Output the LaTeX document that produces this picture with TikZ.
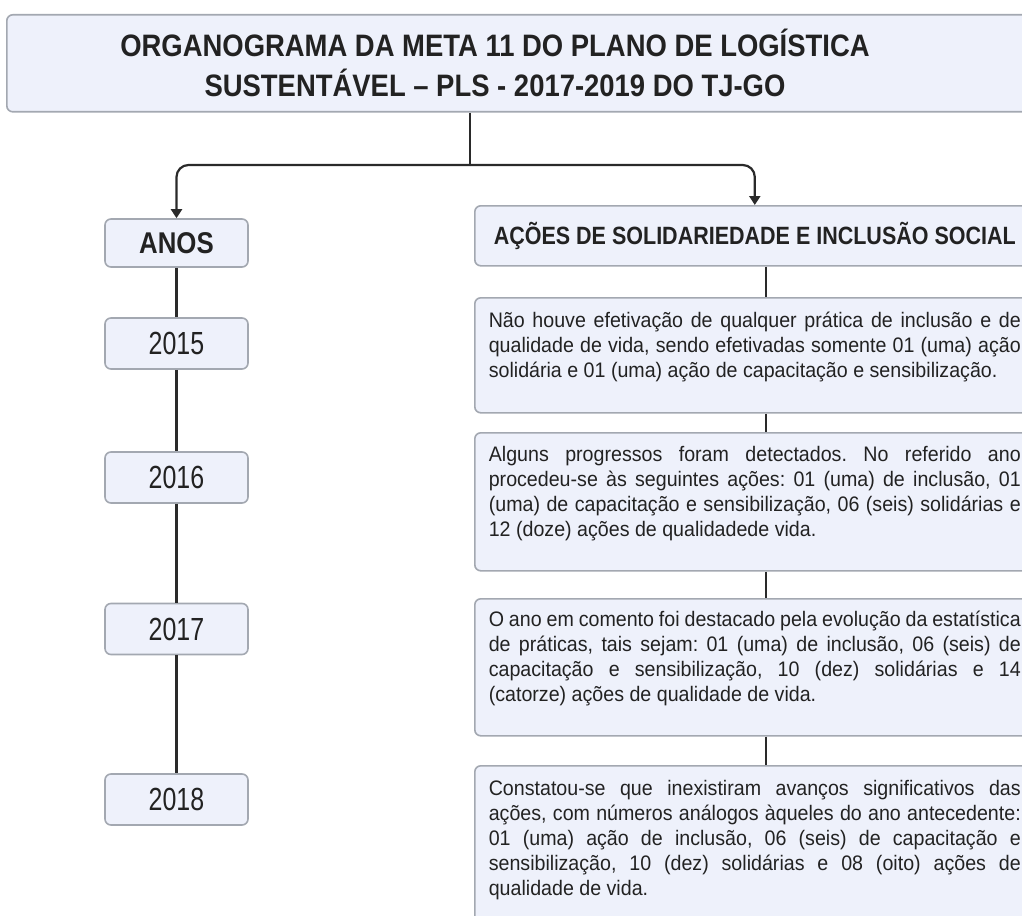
\documentclass[tikz,border=0pt]{standalone}
\usepackage{fontspec}
\setmainfont{Liberation Sans}
\newfontfamily\fonteTitulo[FakeStretch=0.885]{Liberation Sans}
\newfontfamily\fonteAno[FakeStretch=0.78]{Liberation Sans}
\newfontfamily\fonteCabeca[FakeStretch=0.86]{Liberation Sans}
\newfontfamily\fonteCorpo[FakeStretch=0.935]{Liberation Sans}
\usetikzlibrary{arrows.meta}

\definecolor{fundo}{HTML}{EEF1FB}
\definecolor{borda}{HTML}{A3A8B1}
\definecolor{traco}{HTML}{2A2A2A}
\definecolor{letra}{HTML}{222222}

\begin{document}
\frenchspacing
\begin{tikzpicture}[x=1pt, y=-1pt,
	caixa/.style={draw=borda, fill=fundo, line width=1.6pt, rounded corners=6pt, text=letra},
	ano/.style={caixa, minimum width=143pt, minimum height=51pt, inner sep=0pt,
		font=\fonteAno\fontsize{32}{36}\selectfont},
	cabeca/.style={caixa, anchor=north west, minimum width=560pt, minimum height=60pt,
		font=\fonteCabeca\bfseries\fontsize{25}{29}\selectfont},
	texto/.style={caixa, anchor=north west, text width=532pt, inner xsep=14pt, align=justify,
		font=\fonteCorpo\fontsize{21}{25}\selectfont},
	linha/.style={draw=traco, line width=2.2pt},
	seta/.style={linha, rounded corners=12pt, -{Triangle[width=11pt,length=9pt]}}]

\useasboundingbox (0,0) rectangle (1022,915);
\clip (0,0) rectangle (1022,915);
\fill[white] (0,0) rectangle (1022,915);

% titulo
\node[caixa, anchor=north west, minimum width=1060pt, minimum height=97pt] (titulo) at (6,14) {};
\node[align=center, text=letra, font=\fonteTitulo\bfseries\fontsize{31}{40}\selectfont] (titulotxt) at (495,63)
	{ORGANOGRAMA DA META 11 DO PLANO DE LOGÍSTICA\\SUSTENTÁVEL – PLS - 2017-2019 DO TJ-GO};

% coluna dos anos
\node[ano, minimum height=48pt, font=\fonteCabeca\bfseries\fontsize{30}{34}\selectfont] (anos) at (176.5,243) {ANOS};
\node[ano] (a15) at (176.5,343.5) {2015};
\node[ano] (a16) at (176.5,477.5) {2016};
\node[ano] (a17) at (176.5,629) {2017};
\node[ano] (a18) at (176.5,799.5) {2018};

% coluna das acoes
\node[cabeca] (acoes) at (474,205) {AÇÕES DE SOLIDARIEDADE E INCLUSÃO SOCIAL};
\node[texto, minimum height=115pt] (t15) at (474,297)
	{Não houve efetivação de qualquer prática de inclusão e de\linebreak
	qualidade de vida, sendo efetivadas somente 01 (uma) ação\linebreak
	solidária e 01 (uma) ação de capacitação e sensibilização.\par\vspace*{17pt}};
\node[texto, minimum height=138pt] (t16) at (474,432)
	{Alguns progressos foram detectados. No referido ano\linebreak
	procedeu-se às seguintes ações: 01 (uma) de inclusão, 01\linebreak
	(uma) de capacitação e sensibilização, 06 (seis) solidárias e\linebreak
	12 (doze) ações de qualidadede vida.\par\vspace*{17pt}};
\node[texto, minimum height=137pt] (t17) at (474,598)
	{O ano em comento foi destacado pela evolução da estatística\linebreak
	de práticas, tais sejam: 01 (uma) de inclusão, 06 (seis) de\linebreak
	capacitação e sensibilização, 10 (dez) solidárias e 14\linebreak
	(catorze) ações de qualidade de vida.\par\vspace*{17pt}};
\node[texto, minimum height=165pt] (t18) at (474,765)
	{Constatou-se que inexistiram avanços significativos das\linebreak
	ações, com números análogos àqueles do ano antecedente:\linebreak
	01 (uma) ação de inclusão, 06 (seis) de capacitação e\linebreak
	sensibilização, 10 (dez) solidárias e 08 (oito) ações de\linebreak
	qualidade de vida.\par\vspace*{17pt}};

% ligacoes
\coordinate (juncao) at (470,165);
\draw[linha] (titulo.south -| juncao) -- (juncao);
\draw[seta] (juncao) -| (anos);
\draw[seta] (juncao) -| (acoes);

\foreach \de/\para in {anos/a15, a15/a16, a16/a17, a17/a18}
{
	\draw[linha] (\de) -- (\para);
}
\foreach \de/\para in {acoes/t15, t15/t16, t16/t17, t17/t18}
{
	\draw[linha] ([xshift=11pt]\de.south) -- ([xshift=11pt]\para.north);
}
\end{tikzpicture}
\end{document}
